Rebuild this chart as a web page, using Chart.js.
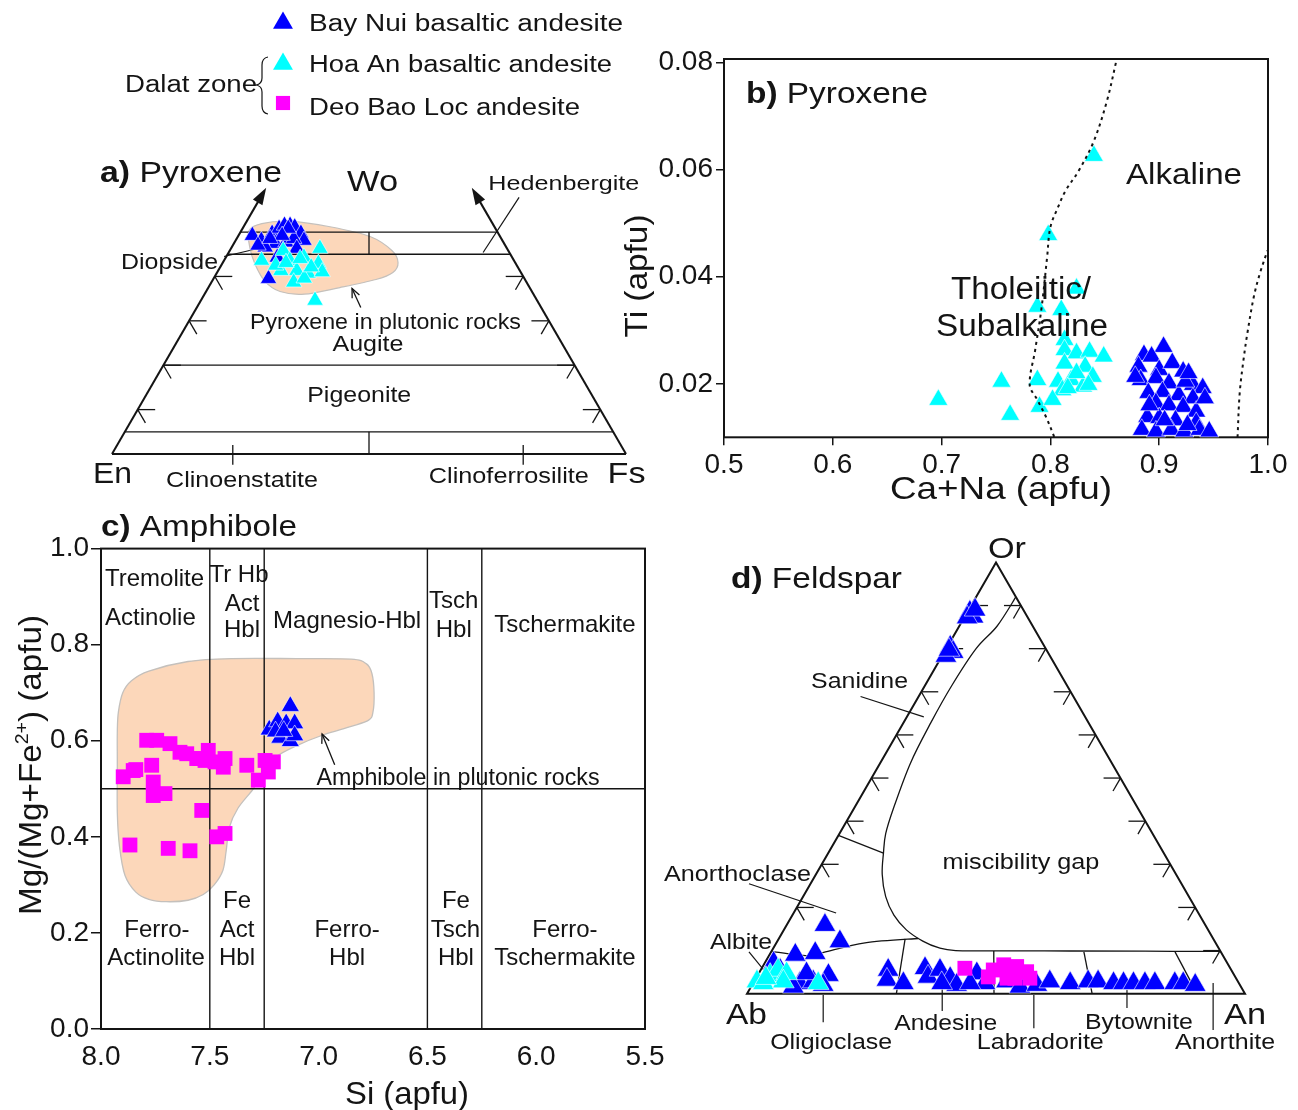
<!DOCTYPE html>
<html lang="en">
<head>
<meta charset="utf-8">
<title>Mineral chemistry: pyroxene, amphibole and feldspar</title>
<script src="https://cdn.jsdelivr.net/npm/chart.js@4.4.1/dist/chart.umd.min.js"></script>
<style>
  html, body { margin: 0; padding: 0; background: #fff; }
  #figure { position: relative; width: 1298px; height: 1110px; overflow: hidden; background: #fff; }
  #figure canvas { position: absolute; left: 0; top: 0; }
</style>
</head>
<body>
<div id="figure">
  <canvas id="pyroxeneQuad" width="1298" height="1110"></canvas>
  <canvas id="pyroxeneTi" width="1298" height="1110"></canvas>
  <canvas id="amphibole" width="1298" height="1110"></canvas>
  <canvas id="feldspar" width="1298" height="1110"></canvas>
</div>
<script>
// ---------------- series ----------------
const seriesNames = ['Bay Nui basaltic andesite', 'Hoa An basaltic andesite', 'Deo Bao Loc andesite'];
const seriesColors = ['#0000FF', '#00FFFF', '#FF00FF'];
const seriesShapes = ['triangle', 'triangle', 'rect'];

// a) pyroxene quadrilateral, [Wo, Fs] mole fractions (En = 1 - Wo - Fs)
const pyxBayNui = [
  [0.492, 0.027], [0.481, 0.050], [0.497, 0.063], [0.508, 0.071], [0.515, 0.078], [0.515, 0.089],
  [0.511, 0.100], [0.497, 0.119], [0.481, 0.133], [0.474, 0.081], [0.477, 0.100], [0.485, 0.111],
  [0.466, 0.065], [0.458, 0.104], [0.463, 0.128], [0.395, 0.107], [0.443, 0.100], [0.470, 0.049],
  [0.508, 0.089], [0.492, 0.085], [0.485, 0.065]
];
const pyxHoaAn = [
  [0.436, 0.073], [0.458, 0.104], [0.463, 0.173], [0.443, 0.152], [0.436, 0.128], [0.429, 0.187],
  [0.413, 0.153], [0.413, 0.122], [0.407, 0.178], [0.387, 0.160], [0.396, 0.176], [0.410, 0.204],
  [0.346, 0.222], [0.425, 0.106], [0.421, 0.177], [0.431, 0.123], [0.440, 0.146]
];
// outline of pyroxene compositions from plutonic rocks, [Wo, Fs]
const pyxPlutonicField = [
  [0.503, 0.015], [0.519, 0.032], [0.524, 0.084], [0.512, 0.168], [0.490, 0.257], [0.458, 0.316],
  [0.431, 0.341], [0.409, 0.342], [0.393, 0.317], [0.375, 0.256], [0.360, 0.194], [0.366, 0.144],
  [0.389, 0.103], [0.427, 0.065], [0.463, 0.037]
];
const pyxWoBounds = [0.5, 0.45, 0.2, 0.05];
const pyxBaseTicks = [0.235, 0.8];
const pyxSideTicks = [0.1, 0.2, 0.3, 0.4];

// b) Ti vs Ca+Na in pyroxene, [Ca+Na, Ti] apfu
const tiBayNui = [
  [0.904, 0.0269], [0.886, 0.0254], [0.893, 0.0251], [0.881, 0.0232], [0.900, 0.0226], [0.912, 0.0239],
  [0.922, 0.0223], [0.883, 0.0207], [0.897, 0.0211], [0.909, 0.0201], [0.931, 0.0198], [0.940, 0.0192],
  [0.890, 0.0183], [0.903, 0.0185], [0.918, 0.0179], [0.931, 0.0173], [0.897, 0.0164], [0.909, 0.0160],
  [0.922, 0.0157], [0.934, 0.0148], [0.889, 0.0138], [0.900, 0.0136], [0.915, 0.0132], [0.934, 0.0127],
  [0.884, 0.0114], [0.897, 0.0111], [0.911, 0.0114], [0.923, 0.0111], [0.937, 0.0114], [0.946, 0.0111],
  [0.878, 0.0213], [0.924, 0.0204], [0.905, 0.0132], [0.926, 0.0123], [0.891, 0.0160], [0.942, 0.0173],
  [0.927, 0.0220]
];
const tiHoaAn = [
  [0.840, 0.0626], [0.798, 0.0478], [0.824, 0.0378], [0.788, 0.0344], [0.810, 0.0338], [0.813, 0.0282],
  [0.813, 0.0263], [0.824, 0.0257], [0.836, 0.0260], [0.849, 0.0251], [0.832, 0.0232], [0.813, 0.0238],
  [0.807, 0.0204], [0.819, 0.0207], [0.830, 0.0195], [0.811, 0.0188], [0.824, 0.0220], [0.839, 0.0213],
  [0.816, 0.0192], [0.835, 0.0198], [0.697, 0.0170], [0.755, 0.0204], [0.763, 0.0142], [0.788, 0.0207],
  [0.790, 0.0157], [0.802, 0.0170]
];
const tiSubalkalineLimit = [
  [0.8035, 0.0101], [0.796, 0.0138], [0.788, 0.0170], [0.781, 0.0198], [0.786, 0.0263], [0.792, 0.0344],
  [0.797, 0.0437], [0.800, 0.0493], [0.807, 0.0530], [0.814, 0.0561], [0.826, 0.0598], [0.840, 0.0654],
  [0.852, 0.0729], [0.861, 0.0807]
];
const tiAlkalineLimit = [
  [0.972, 0.0100], [0.974, 0.0183], [0.9775, 0.0245], [0.981, 0.0294], [0.987, 0.0363], [0.9925, 0.0406],
  [0.9995, 0.0449]
];
const tiTicksX = [0.5, 0.6, 0.7, 0.8, 0.9, 1.0];
const tiTicksY = [0.02, 0.04, 0.06, 0.08];

// c) amphibole, [Si, Mg/(Mg+Fe2+)] apfu
const amphBayNui = [
  [7.130, 0.672], [7.227, 0.623], [7.188, 0.640], [7.149, 0.636], [7.110, 0.636], [7.178, 0.606],
  [7.130, 0.599], [7.110, 0.611], [7.198, 0.619], [7.160, 0.620]
];
const amphDeoBaoLoc = [
  [7.867, 0.383], [7.691, 0.376], [7.591, 0.371], [7.537, 0.455], [7.468, 0.400], [7.430, 0.407],
  [7.898, 0.525], [7.852, 0.538], [7.767, 0.549], [7.760, 0.514], [7.760, 0.486], [7.706, 0.490],
  [7.790, 0.601], [7.744, 0.601], [7.683, 0.594], [7.637, 0.576], [7.606, 0.573], [7.560, 0.563],
  [7.507, 0.580], [7.522, 0.559], [7.430, 0.563], [7.438, 0.545], [7.330, 0.549], [7.277, 0.518],
  [7.246, 0.559], [7.208, 0.556], [7.231, 0.535], [7.476, 0.556], [7.545, 0.563], [7.840, 0.540]
];
// outline of amphibole compositions from plutonic rocks, [Si, Mg#]
const amphPlutonicField = [
  [7.920, 0.660], [7.900, 0.700], [7.860, 0.725], [7.780, 0.745], [7.600, 0.765], [7.400, 0.771],
  [7.100, 0.771], [6.850, 0.770], [6.780, 0.760], [6.755, 0.740], [6.745, 0.700], [6.750, 0.660],
  [6.770, 0.643], [6.850, 0.630], [6.980, 0.612], [7.100, 0.590], [7.200, 0.565], [7.260, 0.530],
  [7.300, 0.500], [7.370, 0.460], [7.410, 0.420], [7.425, 0.370], [7.440, 0.330], [7.480, 0.300],
  [7.530, 0.280], [7.600, 0.268], [7.700, 0.265], [7.780, 0.270], [7.840, 0.285], [7.890, 0.320],
  [7.915, 0.380], [7.925, 0.450], [7.925, 0.550], [7.925, 0.620]
];
const amphSiBounds = [7.5, 7.25, 6.5, 6.25];
const amphMgBound = 0.5;
const amphTicksX = [8.0, 7.5, 7.0, 6.5, 6.0, 5.5];
const amphTicksY = [0.0, 0.2, 0.4, 0.6, 0.8, 1.0];

// d) feldspar, [An, Or] mole fractions (Ab = 1 - An - Or)
const fspBayNui = [
  [0.005, 0.885], [0.017, 0.874], [0.006, 0.872], [0.013, 0.890], [0.006, 0.804], [0.018, 0.792],
  [0.008, 0.783], [0.007, 0.797],
  [0.077, 0.159], [0.126, 0.121], [0.052, 0.090], [0.090, 0.094], [0.142, 0.043], [0.018, 0.071],
  [0.064, 0.032], [0.094, 0.024], [0.119, 0.028], [0.096, 0.047], [0.039, 0.055], [0.085, 0.016],
  [0.143, 0.020],
  [0.256, 0.055], [0.265, 0.032], [0.302, 0.024], [0.328, 0.059], [0.344, 0.039], [0.360, 0.055],
  [0.390, 0.036], [0.411, 0.020], [0.438, 0.047], [0.466, 0.024], [0.436, 0.024], [0.379, 0.024],
  [0.507, 0.028], [0.540, 0.016], [0.572, 0.020], [0.594, 0.028], [0.637, 0.024], [0.671, 0.028],
  [0.691, 0.028], [0.724, 0.024], [0.744, 0.024], [0.764, 0.024], [0.787, 0.024], [0.807, 0.024],
  [0.847, 0.024], [0.864, 0.024], [0.890, 0.020]
];
const fspHoaAn = [
  [0.006, 0.028], [0.025, 0.043], [0.035, 0.055], [0.056, 0.047], [0.131, 0.024], [0.021, 0.024],
  [0.059, 0.028], [0.020, 0.036]
];
const fspDeoBaoLoc = [
  [0.408, 0.059], [0.467, 0.055], [0.482, 0.067], [0.510, 0.063], [0.536, 0.051], [0.550, 0.036],
  [0.504, 0.036], [0.465, 0.039], [0.520, 0.036]
];
// field boundaries, [An, Or]
const fspSolvus = [
  [0.080, 0.920], [0.076, 0.852], [0.060, 0.800], [0.054, 0.714], [0.055, 0.629], [0.061, 0.534],
  [0.079, 0.431], [0.093, 0.371], [0.111, 0.326], [0.133, 0.277], [0.166, 0.225], [0.204, 0.182],
  [0.246, 0.148], [0.292, 0.122], [0.333, 0.106], [0.369, 0.100], [0.450, 0.0995], [0.600, 0.099],
  [0.750, 0.0985], [0.900, 0.098]
];
const fspSanidineLimit = [[0.0, 0.367], [0.111, 0.326]];
const fspAlbiteLimit = [[0.0, 0.098], [0.077, 0.088], [0.106, 0.096], [0.178, 0.118], [0.280, 0.128]];
const fspPlagioclaseBounds = [
  [[0.254, 0.127], [0.300, 0.0]],
  [[0.446, 0.099], [0.496, 0.0]],
  [[0.628, 0.097], [0.693, 0.0]],
  [[0.811, 0.097], [0.880, 0.025]]
];
const fspSideTicksLeft = [0.2, 0.3, 0.4, 0.5, 0.6, 0.7, 0.8, 0.9];
const fspSideTicksRight = [0.1, 0.2, 0.3, 0.4, 0.5, 0.6, 0.7, 0.8, 0.9];

// ---------------- drawing helpers ----------------
const FONT = '"Liberation Sans", Arial, Helvetica, sans-serif';
const INK = '#141414';
const FIELD_FILL = '#FCD7BA';
const FIELD_EDGE = '#C4C0BC';

// ternary composition -> triangle coordinates (base along x, height fraction along y)
const tern = (right, top) => ({ x: right + top / 2, y: top });

const toPx = chart => (x, y) => [chart.scales.x.getPixelForValue(x), chart.scales.y.getPixelForValue(y)];

function line(ctx, a, b) {
  ctx.beginPath(); ctx.moveTo(a[0], a[1]); ctx.lineTo(b[0], b[1]); ctx.stroke();
}

function arrowHead(ctx, a, b, len, half, filled) {
  const dx = b[0] - a[0], dy = b[1] - a[1], L = Math.hypot(dx, dy), ux = dx / L, uy = dy / L;
  const bx = b[0] - ux * len, by = b[1] - uy * len;
  const l = [bx - uy * half, by + ux * half], r = [bx + uy * half, by - ux * half];
  ctx.beginPath();
  if (filled) {
    ctx.moveTo(b[0], b[1]); ctx.lineTo(l[0], l[1]); ctx.lineTo(r[0], r[1]); ctx.closePath(); ctx.fill();
  } else {
    ctx.moveTo(l[0], l[1]); ctx.lineTo(b[0], b[1]); ctx.lineTo(r[0], r[1]); ctx.stroke();
  }
}

// Catmull-Rom spline through pixel points
function smoothPath(ctx, pts, closed) {
  const n = pts.length;
  const get = i => closed ? pts[(i + n) % n] : pts[Math.max(0, Math.min(n - 1, i))];
  ctx.moveTo(pts[0][0], pts[0][1]);
  const segs = closed ? n : n - 1;
  for (let i = 0; i < segs; i++) {
    const p0 = get(i - 1), p1 = get(i), p2 = get(i + 1), p3 = get(i + 2);
    ctx.bezierCurveTo(
      p1[0] + (p2[0] - p0[0]) / 6, p1[1] + (p2[1] - p0[1]) / 6,
      p2[0] - (p3[0] - p1[0]) / 6, p2[1] - (p3[1] - p1[1]) / 6,
      p2[0], p2[1]);
  }
  if (closed) ctx.closePath();
}

// text placed by the centre of its capitals; optional target width stretches the run
function drawText(ctx, content, x, y, o = {}) {
  const size = o.size || 22;
  const segs = typeof content === 'string' ? [{ t: content }] : content;
  ctx.save();
  const fonts = segs.map(s => `${s.bold ? 'bold ' : ''}${s.size || size}px ${FONT}`);
  const widths = segs.map((s, i) => { ctx.font = fonts[i]; return ctx.measureText(s.t).width; });
  const total = widths.reduce((a, b) => a + b, 0);
  const sx = o.width ? o.width / total : 1;
  ctx.translate(x, y);
  if (o.rotate) ctx.rotate(o.rotate);
  ctx.scale(sx, 1);
  let cx = o.align === 'left' ? 0 : o.align === 'right' ? -total : -total / 2;
  ctx.fillStyle = o.color || INK;
  ctx.textAlign = 'left';
  ctx.textBaseline = 'alphabetic';
  segs.forEach((s, i) => {
    ctx.font = fonts[i];
    ctx.fillText(s.t, cx, 0.358 * size - (s.rise || 0));
    cx += widths[i];
  });
  ctx.restore();
}

function panelTitle(ctx, letter, name, x, y, width) {
  drawText(ctx, [{ t: letter, bold: true }, { t: ' ' + name }], x, y, { size: 29, width, align: 'left' });
}

// chevron ticks on the two upper sides of a triangle (coordinates: X across, H up)
function sideTicks(ctx, P, leftLevels, rightLevels) {
  const hx = 0.034, d = 0.03;
  leftLevels.forEach(h => {
    const x0 = h / 2;
    line(ctx, P(x0, h), P(x0 + hx, h));
    line(ctx, P(x0, h), P(x0 + d / 2, h - d));
  });
  rightLevels.forEach(h => {
    const x0 = 1 - h / 2;
    line(ctx, P(x0, h), P(x0 - hx, h));
    line(ctx, P(x0, h), P(x0 - d / 2, h - d));
  });
}

function drawMarker(ctx, style, x, y, r, color) {
  ctx.save();
  ctx.fillStyle = color;
  ctx.beginPath();
  if (style === 'triangle') {
    const a = 2 * Math.PI / 3;
    ctx.moveTo(x, y - r);
    ctx.lineTo(x + Math.sin(a) * r, y - Math.cos(a) * r);
    ctx.lineTo(x + Math.sin(2 * a) * r, y - Math.cos(2 * a) * r);
  } else {
    const s = Math.SQRT1_2 * r;
    ctx.rect(x - s, y - s, 2 * s, 2 * s);
  }
  ctx.closePath();
  ctx.fill();
  ctx.restore();
}

function markerSet(i, pts, radius) {
  return {
    label: seriesNames[i],
    data: pts,
    pointStyle: seriesShapes[i],
    pointRadius: radius,
    pointHoverRadius: radius,
    backgroundColor: seriesColors[i],
    borderColor: '#ffffff',
    borderWidth: seriesShapes[i] === 'triangle' ? 0.6 : 0,
    order: 3 - i,
    clip: false
  };
}

function boundarySet(pts) {
  return {
    label: '',
    data: pts.map(([x, y]) => ({ x, y })),
    showLine: true,
    pointRadius: 0,
    borderColor: INK,
    borderWidth: 2,
    borderDash: [3, 4],
    tension: 0.35,
    fill: false,
    order: 0
  };
}

function hiddenAxesOptions(pad) {
  return {
    responsive: false, animation: false, events: [],
    layout: { padding: pad },
    plugins: { legend: { display: false }, tooltip: { enabled: false } },
    scales: {
      x: { type: 'linear', display: false, min: 0, max: 1 },
      y: { type: 'linear', display: false, min: 0, max: 1 }
    }
  };
}

function shownAxis(extra, tickVals, digits, fitSize, horizontal, tickLen, pad) {
  return Object.assign({
    type: 'linear',
    afterBuildTicks: s => { s.ticks = tickVals.map(v => ({ value: v })); },
    afterFit: s => { if (horizontal) s.height = fitSize; else s.width = fitSize; },
    ticks: {
      callback: v => Number(v).toFixed(digits),
      autoSkip: false, maxRotation: 0, padding: pad,
      color: INK, font: { family: FONT, size: 28 }
    },
    grid: {
      display: tickLen > 0, drawOnChartArea: false, drawTicks: tickLen > 0,
      tickLength: tickLen, color: INK, lineWidth: 1.5
    },
    border: { display: false }
  }, extra);
}

// ---------------- a) pyroxene quadrilateral + series key ----------------
const pyxLabels = [
  ['Wo', 0.507, 0.616, 30, 51],
  ['Hedenbergite', 0.879, 0.611, 20.5, 151],
  ['Diopside', 0.112, 0.436, 22.5, 97],
  ['Pyroxene in plutonic rocks', 0.532, 0.300, 21.5, 271],
  ['Augite', 0.498, 0.249, 22, 71],
  ['Pigeonite', 0.481, 0.136, 22.5, 104],
  ['En', 0.001, -0.042, 30, 39],
  ['Fs', 1.001, -0.042, 30, 38],
  ['Clinoenstatite', 0.253, -0.056, 22, 152],
  ['Clinoferrosilite', 0.772, -0.047, 22, 160]
];

const pyroxeneQuadPlugin = {
  id: 'pyroxeneQuad',
  beforeDatasetsDraw(chart) {
    const ctx = chart.ctx, P = toPx(chart);
    ctx.save();
    ctx.beginPath();
    smoothPath(ctx, pyxPlutonicField.map(([wo, fs]) => P(fs + wo / 2, wo)), true);
    ctx.fillStyle = FIELD_FILL; ctx.fill();
    ctx.strokeStyle = FIELD_EDGE; ctx.lineWidth = 1.2; ctx.stroke();

    ctx.strokeStyle = INK; ctx.fillStyle = INK; ctx.lineWidth = 2;
    line(ctx, P(0, 0), P(1, 0));
    const tipL = P(0.3, 0.6), tipR = P(0.7, 0.6);
    line(ctx, P(0, 0), P(0.293, 0.586));
    line(ctx, P(1, 0), P(0.707, 0.586));
    arrowHead(ctx, P(0, 0), tipL, 17, 5.5, true);
    arrowHead(ctx, P(1, 0), tipR, 17, 5.5, true);

    ctx.lineWidth = 1.3;
    pyxWoBounds.forEach(h => line(ctx, P(h / 2, h), P(1 - h / 2, h)));
    line(ctx, P(0.5, 0.45), P(0.5, 0.5));
    line(ctx, P(0.5, 0), P(0.5, 0.05));
    pyxBaseTicks.forEach(x => line(ctx, P(x, -0.024), P(x, 0.02)));
    sideTicks(ctx, P, pyxSideTicks, pyxSideTicks);

    ctx.lineWidth = 1.2;
    line(ctx, P(0.792, 0.578), P(0.722, 0.454));
    line(ctx, P(0.218, 0.445), P(0.284, 0.463));
    ctx.restore();
  },
  afterDatasetsDraw(chart) {
    const ctx = chart.ctx, P = toPx(chart);
    ctx.save();
    ctx.strokeStyle = INK; ctx.lineWidth = 1.3;
    const a = P(0.484, 0.330), b = P(0.467, 0.373);
    line(ctx, a, b);
    arrowHead(ctx, a, b, 9, 4, false);
    pyxLabels.forEach(([t, x, h, size, width]) => {
      const p = P(x, h);
      drawText(ctx, t, p[0], p[1], { size, width });
    });
    panelTitle(ctx, 'a)', 'Pyroxene', 100, 172, 182);

    // series key
    const key = { markerX: 283, rows: [21, 62, 103], textX: 309, textRows: [23, 64, 107], widths: [314, 303, 271] };
    chart.data.datasets.forEach((ds, i) => {
      drawMarker(ctx, ds.pointStyle, key.markerX, key.rows[i] + (ds.pointStyle === 'triangle' ? 2 : 0),
        ds.pointStyle === 'triangle' ? 11.5 : 10, ds.backgroundColor);
      drawText(ctx, ds.label, key.textX, key.textRows[i], { size: 23, width: key.widths[i], align: 'left' });
    });
    drawText(ctx, 'Dalat zone', 191, 84, { size: 23, width: 132 });
    ctx.strokeStyle = INK; ctx.lineWidth = 1.2;
    ctx.beginPath();
    ctx.moveTo(268, 57);
    ctx.quadraticCurveTo(262, 58, 262, 65);
    ctx.lineTo(262, 78);
    ctx.quadraticCurveTo(262, 84, 256, 85);
    ctx.quadraticCurveTo(262, 86, 262, 92);
    ctx.lineTo(262, 106);
    ctx.quadraticCurveTo(262, 113, 268, 114);
    ctx.stroke();
    ctx.restore();
  }
};

new Chart(document.getElementById('pyroxeneQuad'), {
  type: 'scatter',
  data: {
    datasets: [
      markerSet(0, pyxBayNui.map(([wo, fs]) => tern(fs, wo)), 9.5),
      markerSet(1, pyxHoaAn.map(([wo, fs]) => tern(fs, wo)), 9.5),
      markerSet(2, [], 10)
    ]
  },
  options: hiddenAxesOptions({ left: 112, right: 672, top: 9, bottom: 656 }),
  plugins: [pyroxeneQuadPlugin]
});

// ---------------- b) Ti vs Ca+Na ----------------
const tiLabels = [
  ['Alkaline', 0.9228, 0.0594, 30, 116],
  ['Tholeiitic/', 0.773, 0.0380, 31, 140],
  ['Subalkaline', 0.774, 0.0310, 31, 172]
];

const tiPlugin = {
  id: 'tiFrame',
  beforeDatasetsDraw(chart) {
    const { ctx, chartArea: ca } = chart;
    ctx.save();
    ctx.strokeStyle = INK; ctx.lineWidth = 2;
    ctx.strokeRect(ca.left, ca.top, ca.right - ca.left, ca.bottom - ca.top);
    ctx.restore();
  },
  afterDraw(chart) {
    const { ctx, chartArea: ca } = chart, P = toPx(chart);
    tiLabels.forEach(([t, x, y, size, width]) => {
      const p = P(x, y);
      drawText(ctx, t, p[0], p[1], { size, width });
    });
    panelTitle(ctx, 'b)', 'Pyroxene', ca.left + 22, ca.top + 34, 182);
    drawText(ctx, 'Ca+Na (apfu)', 1001, 488, { size: 30.5, width: 222 });
    drawText(ctx, 'Ti (apfu)', 636, 276, { size: 30.5, width: 123, rotate: -Math.PI / 2 });
  }
};

new Chart(document.getElementById('pyroxeneTi'), {
  type: 'scatter',
  data: {
    datasets: [
      markerSet(0, tiBayNui.map(([x, y]) => ({ x, y })), 11),
      markerSet(1, tiHoaAn.map(([x, y]) => ({ x, y })), 11),
      boundarySet(tiSubalkalineLimit),
      boundarySet(tiAlkalineLimit)
    ]
  },
  options: {
    responsive: false, animation: false, events: [],
    layout: { padding: { left: 624, right: 30, top: 59, bottom: 612.7 } },
    plugins: { legend: { display: false }, tooltip: { enabled: false } },
    scales: {
      x: shownAxis({ min: 0.5, max: 1.0 }, tiTicksX, 1, 60, true, 8, 3),
      y: shownAxis({ min: 0.01, max: 0.0807 }, tiTicksY, 2, 100, false, 8, 3)
    }
  },
  plugins: [tiPlugin]
});

// ---------------- c) amphibole ----------------
const amphLabels = [
  ['Tremolite', 7.754, 0.941], ['Actinolie', 7.773, 0.858],
  ['Tr Hb', 7.366, 0.949], ['Act', 7.352, 0.889], ['Hbl', 7.352, 0.833],
  ['Magnesio-Hbl', 6.869, 0.852],
  ['Tsch', 6.379, 0.895], ['Hbl', 6.379, 0.834],
  ['Tschermakite', 5.868, 0.844],
  ['Ferro-', 7.743, 0.210], ['Actinolite', 7.747, 0.152],
  ['Fe', 7.375, 0.269], ['Act', 7.375, 0.210], ['Hbl', 7.375, 0.152],
  ['Ferro-', 6.869, 0.210], ['Hbl', 6.869, 0.152],
  ['Fe', 6.369, 0.269], ['Tsch', 6.371, 0.210], ['Hbl', 6.369, 0.152],
  ['Ferro-', 5.868, 0.210], ['Tschermakite', 5.868, 0.152]
];

const amphPlugin = {
  id: 'amphFields',
  beforeDatasetsDraw(chart) {
    const { ctx, chartArea: ca } = chart, P = toPx(chart);
    ctx.save();
    ctx.beginPath();
    smoothPath(ctx, amphPlutonicField.map(([si, mg]) => P(si, mg)), true);
    ctx.fillStyle = FIELD_FILL; ctx.fill();
    ctx.strokeStyle = FIELD_EDGE; ctx.lineWidth = 1.3; ctx.stroke();

    ctx.strokeStyle = INK; ctx.lineWidth = 1.4;
    amphSiBounds.forEach(si => line(ctx, P(si, 0), P(si, 1)));
    line(ctx, P(8, amphMgBound), P(5.5, amphMgBound));
    ctx.lineWidth = 2;
    ctx.strokeRect(ca.left, ca.top, ca.right - ca.left, ca.bottom - ca.top);
    ctx.restore();
  },
  afterDraw(chart) {
    const { ctx, chartArea: ca } = chart, P = toPx(chart);
    amphLabels.forEach(([t, si, mg]) => {
      const p = P(si, mg);
      drawText(ctx, t, p[0], p[1], { size: 24 });
    });
    let p = P(6.359, 0.5246);
    drawText(ctx, 'Amphibole in plutonic rocks', p[0], p[1], { size: 23, width: 283 });
    ctx.save();
    ctx.strokeStyle = INK; ctx.lineWidth = 1.3;
    const a = P(6.926, 0.55), b = P(6.984, 0.614);
    line(ctx, a, b);
    arrowHead(ctx, a, b, 9, 4, false);
    ctx.restore();
    panelTitle(ctx, 'c)', 'Amphibole', ca.left, 526, 196);
    drawText(ctx, 'Si (apfu)', 407, 1093, { size: 30.5, width: 124 });
    drawText(ctx, [{ t: 'Mg/(Mg+Fe' }, { t: '2+', size: 18, rise: 13 }, { t: ') (apfu)' }], 30, 765,
      { size: 30.5, width: 300, rotate: -Math.PI / 2 });
  }
};

new Chart(document.getElementById('amphibole'), {
  type: 'scatter',
  data: {
    datasets: [
      markerSet(0, amphBayNui.map(([x, y]) => ({ x, y })), 10.5),
      markerSet(2, amphDeoBaoLoc.map(([x, y]) => ({ x, y })), 10.5)
    ]
  },
  options: {
    responsive: false, animation: false, events: [],
    layout: { padding: { left: 11, right: 653, top: 548.6, bottom: 31 } },
    plugins: { legend: { display: false }, tooltip: { enabled: false } },
    scales: {
      x: shownAxis({ min: 5.5, max: 8.0, reverse: true }, amphTicksX, 1, 50, true, 0, 11),
      y: shownAxis({ min: 0.0, max: 1.0 }, amphTicksY, 1, 90, false, 10, 2)
    }
  },
  plugins: [amphPlugin]
});

// ---------------- d) feldspar ternary ----------------
const fspLabels = [
  ['Or', 0.522, 1.036, 30, 38],
  ['Ab', -0.001, -0.045, 30, 41],
  ['An', 1.000, -0.045, 30, 42],
  ['Sanidine', 0.226, 0.727, 22.5, 97],
  ['Anorthoclase', -0.019, 0.281, 22.5, 147],
  ['Albite', -0.012, 0.122, 22.5, 62],
  ['miscibility gap', 0.550, 0.3065, 22, 157],
  ['Oligioclase', 0.169, -0.110, 21.5, 122],
  ['Andesine', 0.399, -0.067, 21.5, 103],
  ['Labradorite', 0.589, -0.110, 21.5, 127],
  ['Bytownite', 0.787, -0.063, 21.5, 108],
  ['Anorthite', 0.960, -0.110, 21.5, 100]
];
const fspLeaders = [
  [[0.228, 0.689], [0.355, 0.642]],
  [[0.004, 0.255], [0.179, 0.187]],
  [[0.004, 0.097], [0.038, 0.049]],
  [[0.153, -0.003], [0.153, -0.066]],
  [[0.392, 0.016], [0.392, -0.040]],
  [[0.576, -0.003], [0.576, -0.080]],
  [[0.763, 0.036], [0.763, -0.033]],
  [[0.936, 0.025], [0.936, -0.084]]
];

const feldsparPlugin = {
  id: 'feldsparFields',
  beforeDatasetsDraw(chart) {
    const ctx = chart.ctx, P = toPx(chart);
    const T = ([an, or]) => P(an + or / 2, or);
    ctx.save();
    ctx.strokeStyle = INK; ctx.lineWidth = 2; ctx.lineJoin = 'miter';
    ctx.beginPath();
    [P(0, 0), P(1, 0), P(0.5, 1)].forEach((p, i) => i ? ctx.lineTo(p[0], p[1]) : ctx.moveTo(p[0], p[1]));
    ctx.closePath(); ctx.stroke();

    ctx.lineWidth = 1.3;
    sideTicks(ctx, P, fspSideTicksLeft, fspSideTicksRight);
    ctx.beginPath(); smoothPath(ctx, fspSolvus.map(T), false); ctx.stroke();
    ctx.beginPath(); smoothPath(ctx, fspAlbiteLimit.map(T), false); ctx.stroke();
    line(ctx, T(fspSanidineLimit[0]), T(fspSanidineLimit[1]));
    fspPlagioclaseBounds.forEach(([a, b]) => line(ctx, T(a), T(b)));
    ctx.lineWidth = 1.2;
    fspLeaders.forEach(([a, b]) => line(ctx, P(a[0], a[1]), P(b[0], b[1])));
    ctx.restore();
  },
  afterDraw(chart) {
    const ctx = chart.ctx, P = toPx(chart);
    fspLabels.forEach(([t, x, h, size, width]) => {
      const p = P(x, h);
      drawText(ctx, t, p[0], p[1], { size, width });
    });
    panelTitle(ctx, 'd)', 'Feldspar', 731, 578, 171);
  }
};

new Chart(document.getElementById('feldspar'), {
  type: 'scatter',
  data: {
    datasets: [
      markerSet(0, fspBayNui.map(([an, or]) => tern(an, or)), 12.5),
      markerSet(1, fspHoaAn.map(([an, or]) => tern(an, or)), 12.5),
      markerSet(2, fspDeoBaoLoc.map(([an, or]) => tern(an, or)), 10.5)
    ]
  },
  options: hiddenAxesOptions({ left: 747, right: 53, top: 562.4, bottom: 116.3 }),
  plugins: [feldsparPlugin]
});
</script>
</body>
</html>
